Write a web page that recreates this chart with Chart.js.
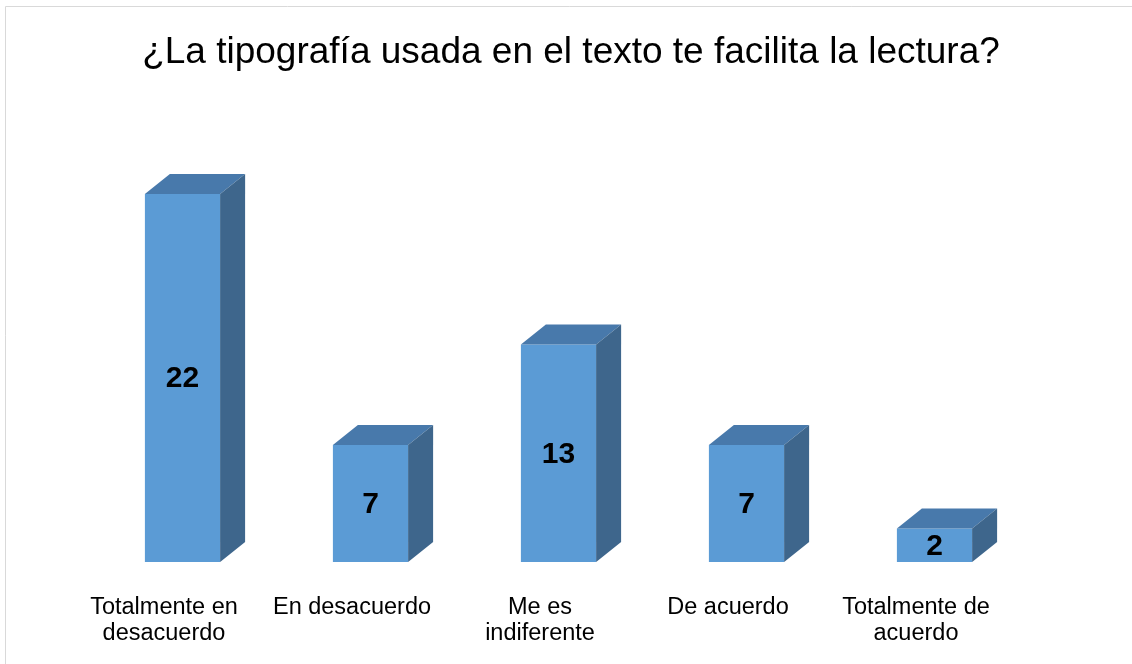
<!DOCTYPE html>
<html>
<head>
<meta charset="utf-8">
<script src="https://cdn.jsdelivr.net/npm/chart.js@4"></script>
<style>
  body { margin: 0; background: #fff; }
</style>
</head>
<body>
<canvas id="myChart" width="1132" height="664"></canvas>
<script>
// datos
const categorias = [['Totalmente en', 'desacuerdo'], 'En desacuerdo', ['Me es', 'indiferente'], 'De acuerdo', ['Totalmente de', 'acuerdo']];
const valores = [22, 7, 13, 7, 2];
const titulo = '¿La tipografía usada en el texto te facilita la lectura?';

const FUENTE = "'Liberation Sans', Arial, sans-serif";
const frente = '#5B9BD5';
const arriba = '#4879AB';
const lado = '#3E668C';
const desplazar = 18.5; // barras corridas respecto a las etiquetas
const fondoX = 25, fondoY = 20; // profundidad 3D

let barras3d = {
  id: 'barras3d',
  beforeDraw(chart) {
    const ctx = chart.ctx;
    ctx.save();
    ctx.strokeStyle = '#D9D9D9';
    ctx.lineWidth = 1;
    ctx.beginPath();
    ctx.moveTo(5.5, 700);
    ctx.lineTo(5.5, 6.5);
    ctx.lineTo(1200, 6.5);
    ctx.stroke();
    ctx.restore();
  },
  beforeDatasetsDraw(chart) {
    chart.ctx.save();
    chart.ctx.translate(desplazar, 0);
  },
  afterDatasetsDraw(chart) {
    const ctx = chart.ctx;
    const meta = chart.getDatasetMeta(0);
    meta.data.forEach((bar, i) => {
      const p = bar.getProps(['x', 'y', 'base', 'width'], true);
      const l = p.x - p.width / 2, r = p.x + p.width / 2;
      // cara superior
      ctx.fillStyle = arriba;
      ctx.beginPath();
      ctx.moveTo(l, p.y);
      ctx.lineTo(l + fondoX, p.y - fondoY);
      ctx.lineTo(r + fondoX, p.y - fondoY);
      ctx.lineTo(r, p.y);
      ctx.closePath();
      ctx.fill();
      // cara lateral
      ctx.fillStyle = lado;
      ctx.beginPath();
      ctx.moveTo(r, p.y);
      ctx.lineTo(r + fondoX, p.y - fondoY);
      ctx.lineTo(r + fondoX, p.base - fondoY);
      ctx.lineTo(r, p.base);
      ctx.closePath();
      ctx.fill();
      // etiqueta de valor
      ctx.fillStyle = '#000';
      ctx.font = 'bold 30px ' + FUENTE;
      ctx.textAlign = 'center';
      ctx.textBaseline = 'middle';
      ctx.fillText(String(valores[i]), p.x, (p.y + p.base) / 2 + 1);
    });
    ctx.restore();
  }
};

const ctx = document.getElementById('myChart');
const dataset = {
  labels: categorias,
  datasets: [{
    data: valores,
    backgroundColor: frente,
    borderWidth: 0,
    barPercentage: 0.4,
    categoryPercentage: 1
  }]
};
const config = {
  type: 'bar',
  data: dataset,
  options: {
    responsive: false,
    animation: false,
    layout: { padding: { left: 10, right: 0, top: 0, bottom: 0 } },
    plugins: {
      legend: { display: false },
      tooltip: { enabled: false },
      title: {
        display: true,
        text: titulo,
        color: '#000',
        font: { family: FUENTE, size: 37, weight: 'normal', lineHeight: 1.2 },
        padding: { top: 31, bottom: 68.4 }
      }
    },
    scales: {
      x: {
        grid: { display: false, drawTicks: false },
        border: { display: false },
        ticks: {
          color: '#000',
          font: { family: FUENTE, size: 23.5, lineHeight: 1.12 },
          padding: 32,
          maxRotation: 0,
          autoSkip: false
        },
        afterFit: (s) => { s.height = 102; }
      },
      y: {
        min: 0,
        max: 25,
        position: 'left',
        grid: { display: false },
        border: { display: false },
        ticks: { display: false },
        afterFit: (s) => { s.width = 60; }
      },
      y2: {
        min: 0,
        max: 25,
        position: 'right',
        grid: { display: false },
        border: { display: false },
        ticks: { display: false },
        afterFit: (s) => { s.width = 122; }
      }
    }
  },
  plugins: [barras3d]
};
const chart = new Chart(ctx, config);
</script>
</body>
</html>
